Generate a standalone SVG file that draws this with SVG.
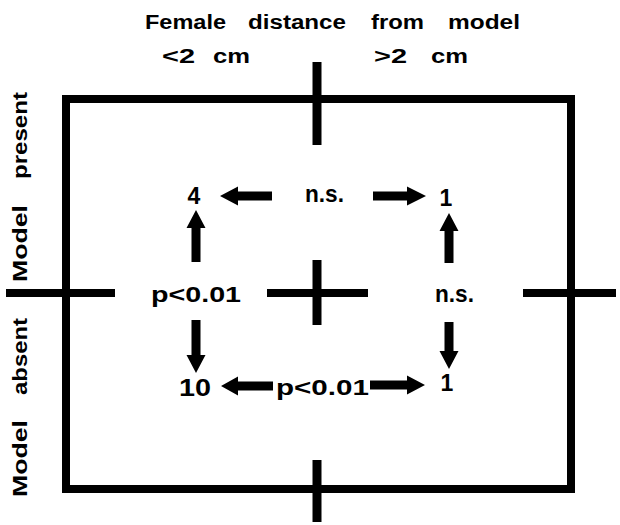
<svg xmlns="http://www.w3.org/2000/svg" width="620" height="525" viewBox="0 0 620 525">
<style>
  text { font-family: "Liberation Sans", Arial, sans-serif; font-weight: bold; fill: #000; }
  .title { font-size: 20px; }
  .axis { font-size: 21px; }
  .num { font-size: 23px; }
  .lab { font-size: 22px; }
  .ns { font-size: 24px; }
  .grid { stroke: #000; fill: none; stroke-width: 8; stroke-linecap: butt; }
  .tick { stroke: #000; stroke-width: 9; fill: none; }
  .arrow { fill: #000; stroke: none; }
</style>
<rect width="620" height="525" fill="#fff"/>

<g id="titles">
  <text class="title" y="29"><tspan x="145" textLength="81" lengthAdjust="spacingAndGlyphs">Female</tspan><tspan x="248" textLength="98" lengthAdjust="spacingAndGlyphs">distance</tspan><tspan x="371" textLength="53" lengthAdjust="spacingAndGlyphs">from</tspan><tspan x="448" textLength="72" lengthAdjust="spacingAndGlyphs">model</tspan></text>
  <text class="axis" y="63"><tspan x="162" textLength="33" lengthAdjust="spacingAndGlyphs">&lt;2</tspan><tspan x="213" textLength="37" lengthAdjust="spacingAndGlyphs">cm</tspan></text>
  <text class="axis" y="63"><tspan x="374" textLength="33" lengthAdjust="spacingAndGlyphs">&gt;2</tspan><tspan x="431" textLength="37" lengthAdjust="spacingAndGlyphs">cm</tspan></text>
  <text class="axis" transform="translate(27,282) rotate(-90)" y="0"><tspan x="0" textLength="77" lengthAdjust="spacingAndGlyphs">Model</tspan><tspan x="103" textLength="87" lengthAdjust="spacingAndGlyphs">present</tspan></text>
  <text class="axis" transform="translate(27,497) rotate(-90)" y="0"><tspan x="0" textLength="77" lengthAdjust="spacingAndGlyphs">Model</tspan><tspan x="102" textLength="77" lengthAdjust="spacingAndGlyphs">absent</tspan></text>
</g>

<g id="frame">
  <rect class="grid" x="66" y="99" width="505" height="390"/>
  <line class="tick" x1="317" y1="62" x2="317" y2="145"/>
  <line class="tick" x1="317" y1="460" x2="317" y2="522"/>
  <line class="grid" x1="6" y1="293" x2="115" y2="293"/>
  <line class="grid" x1="523" y1="293" x2="616" y2="293"/>
  <line class="grid" x1="267" y1="293" x2="368" y2="293"/>
  <line class="tick" x1="317" y1="260" x2="317" y2="325"/>
</g>

<g id="node-present-near"><text class="num" x="194" y="204" text-anchor="middle">4</text></g>
<g id="node-present-far"><text class="num" x="446" y="206" text-anchor="middle">1</text></g>
<g id="node-absent-near"><text class="num" x="179" y="396" textLength="32" lengthAdjust="spacingAndGlyphs">10</text></g>
<g id="node-absent-far"><text class="num" x="447" y="391" text-anchor="middle">1</text></g>

<g id="connectors">
  <polygon class="arrow" points="272,191.5 238,191.5 238,186.5 220,196 238,205.5 238,200.5 272,200.5"/>
  <polygon class="arrow" points="373,191.5 407,191.5 407,186.5 426,196 407,205.5 407,200.5 373,200.5"/>
  <polygon class="arrow" points="273,381.5 238,381.5 238,376.5 221,386 238,395.5 238,390.5 273,390.5"/>
  <polygon class="arrow" points="370,380.5 407,380.5 407,375.5 425,385 407,394.5 407,389.5 370,389.5"/>
  <polygon class="arrow" points="191.5,262 191.5,228 186.5,228 196,210 205.5,228 200.5,228 200.5,262"/>
  <polygon class="arrow" points="444.5,263 444.5,231 439.5,231 449,213 458.5,231 453.5,231 453.5,263"/>
  <polygon class="arrow" points="191.5,320 191.5,355 186.5,355 196,373 205.5,355 200.5,355 200.5,320"/>
  <polygon class="arrow" points="444.5,322 444.5,351 439.5,351 449,369 458.5,351 453.5,351 453.5,322"/>
  <text class="ns" x="305" y="202" textLength="39" lengthAdjust="spacingAndGlyphs">n.s.</text>
  <text class="lab" x="151" y="302" textLength="90" lengthAdjust="spacingAndGlyphs">p&lt;0.01</text>
  <text class="ns" x="435" y="302" textLength="39" lengthAdjust="spacingAndGlyphs">n.s.</text>
  <text class="lab" x="276" y="395" textLength="93" lengthAdjust="spacingAndGlyphs">p&lt;0.01</text>
</g>
</svg>
